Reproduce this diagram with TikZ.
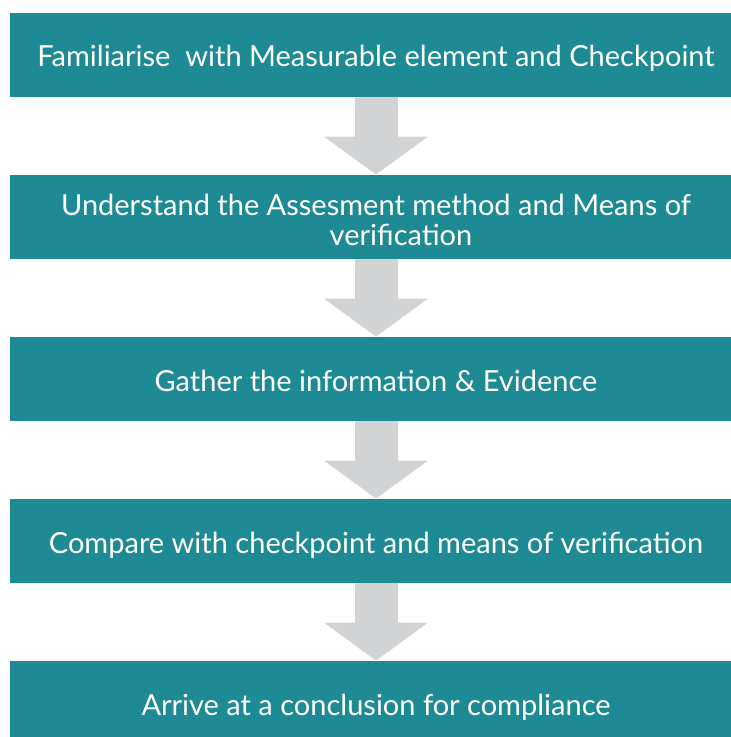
\documentclass[tikz,border=0pt]{standalone}
\usepackage{fontspec}
\setmainfont{Lato}
\usetikzlibrary{arrows.meta}
\definecolor{boxteal}{HTML}{1E8A94}
\definecolor{arrowgray}{HTML}{D1D3D4}
\begin{document}
\begin{tikzpicture}[x=.5pt,y=-.5pt,
  stepbox/.style={fill=boxteal,text=white,minimum width=366pt,minimum height=42pt,
    inner sep=0pt,align=center,text height=12pt,text depth=0pt,
    font=\fontsize{14.5}{15}\selectfont},
  flow/.style={draw=arrowgray,line width=21.5pt,-{Triangle[width=51pt,length=19pt]}}]
\useasboundingbox (0,0) rectangle (730,737);
\node[stepbox] (s1) at (376,55) {Familiarise\ \ with Measurable element and Checkpoint};
\node[stepbox,text height=29pt] (s2) at (376,217) {Understand the Assesment method and Means of\\\hspace*{25pt}verification};
\node[stepbox] (s3) at (376,379) {Gather the information \& Evidence};
\node[stepbox] (s4) at (376,541) {Compare with checkpoint and means of verification};
\node[stepbox] (s5) at (376,703) {Arrive at a conclusion for compliance};
\draw[flow] (s1) -- (s2);
\draw[flow] (s2) -- (s3);
\draw[flow] (s3) -- (s4);
\draw[flow] (s4) -- (s5);
\end{tikzpicture}
\end{document}
